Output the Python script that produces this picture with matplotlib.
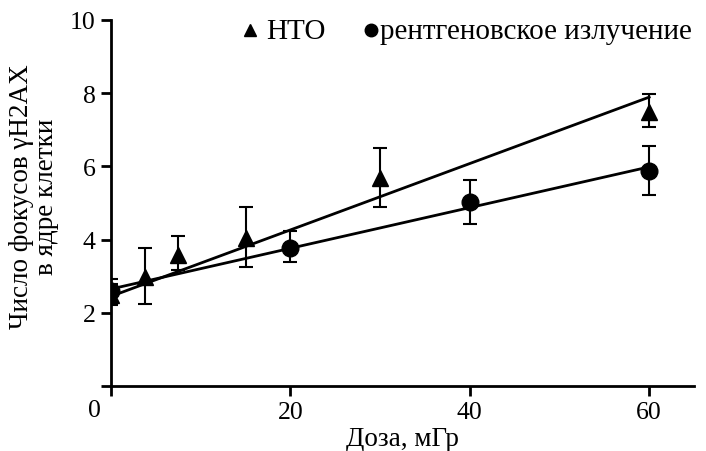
import matplotlib
matplotlib.use("Agg")
import matplotlib.pyplot as plt
from matplotlib.lines import Line2D
from matplotlib.transforms import blended_transform_factory
import numpy as np

plt.rcParams['font.family'] = ['Liberation Serif', 'DejaVu Serif']

# HTO data (triangles)
hto_dose = [0, 3.8, 7.5, 15, 30, 60]
hto_foci = [2.50, 2.97, 3.59, 4.04, 5.67, 7.48]
hto_err_low = [0.30, 0.73, 0.41, 0.80, 0.77, 0.40]
hto_err_high = [0.30, 0.80, 0.51, 0.86, 0.83, 0.50]

# X-ray data (circles)
xray_dose = [0, 20, 40, 60]
xray_foci = [2.60, 3.76, 5.04, 5.88]
xray_err_low = [0.32, 0.36, 0.61, 0.66]
xray_err_high = [0.32, 0.47, 0.59, 0.67]

# linear fit parameters (intercept, slope)
hto_fit = (2.45, 0.0907)
xray_fit = (2.65, 0.0556)
fit_range = [0, 60]

x_ticks = [0, 20, 40, 60]
y_ticks = [0, 2, 4, 6, 8, 10]
y_ticklabels = ['', '2', '4', '6', '8', '10']

labels = ['НТО', 'рентгеновское излучение']
xlabel = 'Доза, мГр'
ylabel = 'Число фокусов γH2AX\nв ядре клетки'

TICK_FS = 18.5
LABEL_FS = 19.5
LEG_FS = 21

fig = plt.figure(figsize=(7.06, 4.52), dpi=100)
ax = fig.add_axes([111/706, 1-387/452, (694-111)/706, (387-21)/452])

xf = np.array(fit_range, dtype=float)
ax.plot(xf, hto_fit[0] + hto_fit[1]*xf, color='black', lw=2.0, zorder=2)
ax.plot(xf, xray_fit[0] + xray_fit[1]*xf, color='black', lw=2.0, zorder=2)

ax.errorbar(hto_dose, hto_foci, yerr=[hto_err_low, hto_err_high], fmt='^',
            color='black', ms=11, elinewidth=1.5, capsize=5, capthick=1.5, zorder=3)
ax.errorbar(xray_dose, xray_foci, yerr=[xray_err_low, xray_err_high], fmt='o',
            color='black', ms=12, elinewidth=1.5, capsize=5, capthick=1.5, zorder=4)

ax.set_xlim(0, 65)
ax.set_ylim(0, 10)
for s in ['top', 'right']:
    ax.spines[s].set_visible(False)
for s in ['left', 'bottom']:
    ax.spines[s].set_linewidth(2)
ax.spines['left'].set_bounds(0, 10)

ax.set_xticks(x_ticks)
ax.set_xticklabels([''] + [str(t) for t in x_ticks[1:]])
ax.set_yticks(y_ticks)
ax.set_yticklabels(y_ticklabels)
ax.tick_params(axis='both', direction='out', length=7, width=2, labelsize=TICK_FS, pad=4)

trans = blended_transform_factory(ax.transData, ax.transAxes)
ax.text(-1.8, -0.066, str(x_ticks[0]), transform=trans, ha='center', va='center',
        fontsize=TICK_FS)

ax.set_xlabel(xlabel, fontsize=LABEL_FS, labelpad=2)
fig.text(34/706, 1-197/452, ylabel, rotation=90, ha='center', va='center',
         fontsize=LABEL_FS, linespacing=1.0, multialignment='center')

# legend (manual placement)
leg_y = 1 - 31/452
fig.add_artist(Line2D([250/706], [leg_y], marker='^', ls='none', color='black', ms=9,
                      transform=fig.transFigure))
fig.text(266/706, 1 - 39/452, labels[0], ha='left', va='baseline', fontsize=LEG_FS)
fig.add_artist(Line2D([371/706], [leg_y], marker='o', ls='none', color='black', ms=9,
                      transform=fig.transFigure))
fig.text(380/706, 1 - 39/452, labels[1], ha='left', va='baseline', fontsize=LEG_FS)

fig.savefig('out.png', dpi=100)
